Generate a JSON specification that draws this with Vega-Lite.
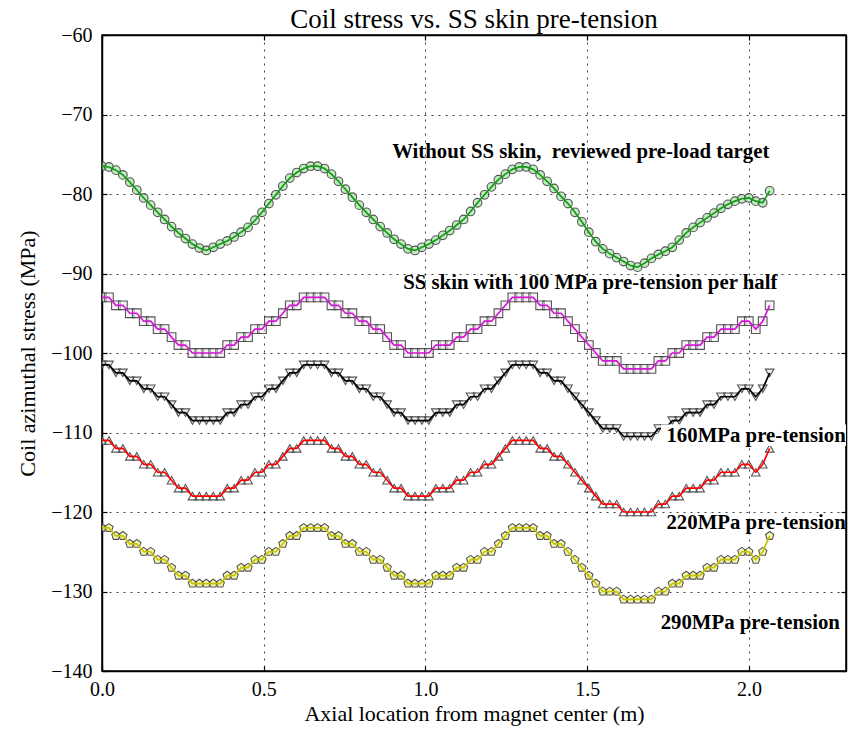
{
  "$schema": "https://vega.github.io/schema/vega-lite/v6.json",
  "width": 744,
  "height": 636,
  "autosize": {"type": "none"},
  "padding": {"left": 102, "top": 35, "right": 7, "bottom": 60},
  "background": "white",
  "title": {"text": "Coil stress vs. SS skin pre-tension", "font": "Liberation Serif", "fontSize": 27, "fontWeight": "normal", "color": "black", "offset": -9, "anchor": "middle"},
  "config": {
    "view": {"stroke": "black", "strokeWidth": 1.5},
    "axis": {
      "domainColor": "black", "domainWidth": 1.5, "tickColor": "black", "tickWidth": 1.2, "tickSize": -5, "labelFlush": false,
      "labelFont": "Liberation Serif", "labelFontSize": 20, "labelColor": "black",
      "titleFont": "Liberation Serif", "titleFontSize": 22, "titleFontWeight": "normal", "titleColor": "black",
      "gridColor": "black", "gridOpacity": 0.75, "gridDash": [2, 5], "gridWidth": 1
    }
  },
  "datasets": {
    "curves": [
{"s":"g","x":0,"v":-76.5},{"s":"g","x":0.0215,"v":-76.6},{"s":"g","x":0.043,"v":-77.0},{"s":"g","x":0.0645,"v":-77.6},{"s":"g","x":0.086,"v":-78.5},{"s":"g","x":0.1075,"v":-79.5},{"s":"g","x":0.129,"v":-80.5},{"s":"g","x":0.1505,"v":-81.4},{"s":"g","x":0.172,"v":-82.3},{"s":"g","x":0.1935,"v":-83.2},
{"s":"g","x":0.215,"v":-84.1},{"s":"g","x":0.2365,"v":-84.9},{"s":"g","x":0.258,"v":-85.6},{"s":"g","x":0.2795,"v":-86.3},{"s":"g","x":0.301,"v":-86.8},{"s":"g","x":0.3225,"v":-87.1},{"s":"g","x":0.344,"v":-86.7},{"s":"g","x":0.3655,"v":-86.3},{"s":"g","x":0.387,"v":-85.9},{"s":"g","x":0.4085,"v":-85.4},
{"s":"g","x":0.43,"v":-84.8},{"s":"g","x":0.4515,"v":-84.2},{"s":"g","x":0.473,"v":-83.3},{"s":"g","x":0.4945,"v":-82.3},{"s":"g","x":0.516,"v":-81.2},{"s":"g","x":0.5375,"v":-80.1},{"s":"g","x":0.559,"v":-79.0},{"s":"g","x":0.5805,"v":-78.0},{"s":"g","x":0.602,"v":-77.3},{"s":"g","x":0.6235,"v":-76.8},
{"s":"g","x":0.645,"v":-76.5},{"s":"g","x":0.6665,"v":-76.5},{"s":"g","x":0.688,"v":-76.8},{"s":"g","x":0.7095,"v":-77.5},{"s":"g","x":0.731,"v":-78.4},{"s":"g","x":0.7525,"v":-79.4},{"s":"g","x":0.774,"v":-80.4},{"s":"g","x":0.7955,"v":-81.4},{"s":"g","x":0.817,"v":-82.3},{"s":"g","x":0.8385,"v":-83.2},
{"s":"g","x":0.86,"v":-84.1},{"s":"g","x":0.8815,"v":-84.9},{"s":"g","x":0.903,"v":-85.7},{"s":"g","x":0.9245,"v":-86.3},{"s":"g","x":0.946,"v":-86.9},{"s":"g","x":0.9675,"v":-87.1},{"s":"g","x":0.989,"v":-86.7},{"s":"g","x":1.0105,"v":-86.3},{"s":"g","x":1.032,"v":-85.8},{"s":"g","x":1.0535,"v":-85.2},
{"s":"g","x":1.075,"v":-84.6},{"s":"g","x":1.0965,"v":-83.9},{"s":"g","x":1.118,"v":-83.2},{"s":"g","x":1.1395,"v":-82.2},{"s":"g","x":1.161,"v":-81.1},{"s":"g","x":1.1825,"v":-80.1},{"s":"g","x":1.204,"v":-79.1},{"s":"g","x":1.2255,"v":-78.2},{"s":"g","x":1.247,"v":-77.5},{"s":"g","x":1.2685,"v":-76.9},
{"s":"g","x":1.29,"v":-76.6},{"s":"g","x":1.3115,"v":-76.6},{"s":"g","x":1.333,"v":-76.9},{"s":"g","x":1.3545,"v":-77.6},{"s":"g","x":1.376,"v":-78.4},{"s":"g","x":1.3975,"v":-79.3},{"s":"g","x":1.419,"v":-80.3},{"s":"g","x":1.4405,"v":-81.2},{"s":"g","x":1.462,"v":-82.3},{"s":"g","x":1.4835,"v":-83.5},
{"s":"g","x":1.505,"v":-84.8},{"s":"g","x":1.5265,"v":-86.0},{"s":"g","x":1.548,"v":-86.9},{"s":"g","x":1.5695,"v":-87.5},{"s":"g","x":1.591,"v":-88.0},{"s":"g","x":1.6125,"v":-88.5},{"s":"g","x":1.634,"v":-89.0},{"s":"g","x":1.6555,"v":-89.2},{"s":"g","x":1.677,"v":-88.7},{"s":"g","x":1.6985,"v":-88.1},
{"s":"g","x":1.72,"v":-87.6},{"s":"g","x":1.7415,"v":-87.2},{"s":"g","x":1.763,"v":-86.7},{"s":"g","x":1.7845,"v":-85.8},{"s":"g","x":1.806,"v":-84.9},{"s":"g","x":1.8275,"v":-84.2},{"s":"g","x":1.849,"v":-83.6},{"s":"g","x":1.8705,"v":-83.0},{"s":"g","x":1.892,"v":-82.4},{"s":"g","x":1.9135,"v":-81.8},
{"s":"g","x":1.935,"v":-81.3},{"s":"g","x":1.9565,"v":-80.9},{"s":"g","x":1.978,"v":-80.6},{"s":"g","x":1.9995,"v":-80.5},{"s":"g","x":2.021,"v":-80.9},{"s":"g","x":2.0425,"v":-81.1},{"s":"g","x":2.064,"v":-79.6},

{"s":"m","x":0,"v":-93},{"s":"m","x":0.0215,"v":-93},{"s":"m","x":0.043,"v":-94},{"s":"m","x":0.0645,"v":-94},{"s":"m","x":0.086,"v":-95},{"s":"m","x":0.1075,"v":-95},{"s":"m","x":0.129,"v":-96},{"s":"m","x":0.1505,"v":-96},{"s":"m","x":0.172,"v":-97},{"s":"m","x":0.1935,"v":-97},
{"s":"m","x":0.215,"v":-98},{"s":"m","x":0.2365,"v":-99},{"s":"m","x":0.258,"v":-99},{"s":"m","x":0.2795,"v":-100},{"s":"m","x":0.301,"v":-100},{"s":"m","x":0.3225,"v":-100},{"s":"m","x":0.344,"v":-100},{"s":"m","x":0.3655,"v":-100},{"s":"m","x":0.387,"v":-99},{"s":"m","x":0.4085,"v":-99},
{"s":"m","x":0.43,"v":-98},{"s":"m","x":0.4515,"v":-98},{"s":"m","x":0.473,"v":-97},{"s":"m","x":0.4945,"v":-97},{"s":"m","x":0.516,"v":-96},{"s":"m","x":0.5375,"v":-96},{"s":"m","x":0.559,"v":-95},{"s":"m","x":0.5805,"v":-94},{"s":"m","x":0.602,"v":-94},{"s":"m","x":0.6235,"v":-93},
{"s":"m","x":0.645,"v":-93},{"s":"m","x":0.6665,"v":-93},{"s":"m","x":0.688,"v":-93},{"s":"m","x":0.7095,"v":-94},{"s":"m","x":0.731,"v":-94},{"s":"m","x":0.7525,"v":-95},{"s":"m","x":0.774,"v":-95},{"s":"m","x":0.7955,"v":-96},{"s":"m","x":0.817,"v":-96},{"s":"m","x":0.8385,"v":-97},
{"s":"m","x":0.86,"v":-97},{"s":"m","x":0.8815,"v":-98},{"s":"m","x":0.903,"v":-99},{"s":"m","x":0.9245,"v":-99},{"s":"m","x":0.946,"v":-100},{"s":"m","x":0.9675,"v":-100},{"s":"m","x":0.989,"v":-100},{"s":"m","x":1.0105,"v":-100},{"s":"m","x":1.032,"v":-99},{"s":"m","x":1.0535,"v":-99},
{"s":"m","x":1.075,"v":-99},{"s":"m","x":1.0965,"v":-98},{"s":"m","x":1.118,"v":-98},{"s":"m","x":1.1395,"v":-97},{"s":"m","x":1.161,"v":-97},{"s":"m","x":1.1825,"v":-96},{"s":"m","x":1.204,"v":-96},{"s":"m","x":1.2255,"v":-95},{"s":"m","x":1.247,"v":-94},{"s":"m","x":1.2685,"v":-93},
{"s":"m","x":1.29,"v":-93},{"s":"m","x":1.3115,"v":-93},{"s":"m","x":1.333,"v":-93},{"s":"m","x":1.3545,"v":-94},{"s":"m","x":1.376,"v":-94},{"s":"m","x":1.3975,"v":-95},{"s":"m","x":1.419,"v":-95},{"s":"m","x":1.4405,"v":-96},{"s":"m","x":1.462,"v":-97},{"s":"m","x":1.4835,"v":-98},
{"s":"m","x":1.505,"v":-99},{"s":"m","x":1.5265,"v":-100},{"s":"m","x":1.548,"v":-101},{"s":"m","x":1.5695,"v":-101},{"s":"m","x":1.591,"v":-101},{"s":"m","x":1.6125,"v":-102},{"s":"m","x":1.634,"v":-102},{"s":"m","x":1.6555,"v":-102},{"s":"m","x":1.677,"v":-102},{"s":"m","x":1.6985,"v":-102},
{"s":"m","x":1.72,"v":-101},{"s":"m","x":1.7415,"v":-101},{"s":"m","x":1.763,"v":-100},{"s":"m","x":1.7845,"v":-100},{"s":"m","x":1.806,"v":-99},{"s":"m","x":1.8275,"v":-99},{"s":"m","x":1.849,"v":-99},{"s":"m","x":1.8705,"v":-98},{"s":"m","x":1.892,"v":-98},{"s":"m","x":1.9135,"v":-97},
{"s":"m","x":1.935,"v":-97},{"s":"m","x":1.9565,"v":-97},{"s":"m","x":1.978,"v":-96},{"s":"m","x":1.9995,"v":-96},{"s":"m","x":2.021,"v":-97},{"s":"m","x":2.0425,"v":-96},{"s":"m","x":2.064,"v":-94},

{"s":"k","x":0,"v":-101.5},{"s":"k","x":0.0215,"v":-101.5},{"s":"k","x":0.043,"v":-102.5},{"s":"k","x":0.0645,"v":-102.5},{"s":"k","x":0.086,"v":-103.5},{"s":"k","x":0.1075,"v":-103.5},{"s":"k","x":0.129,"v":-104.5},{"s":"k","x":0.1505,"v":-104.5},{"s":"k","x":0.172,"v":-105.5},{"s":"k","x":0.1935,"v":-105.5},
{"s":"k","x":0.215,"v":-106.5},{"s":"k","x":0.2365,"v":-107.5},{"s":"k","x":0.258,"v":-107.5},{"s":"k","x":0.2795,"v":-108.5},{"s":"k","x":0.301,"v":-108.5},{"s":"k","x":0.3225,"v":-108.5},{"s":"k","x":0.344,"v":-108.5},{"s":"k","x":0.3655,"v":-108.5},{"s":"k","x":0.387,"v":-107.5},{"s":"k","x":0.4085,"v":-107.5},
{"s":"k","x":0.43,"v":-106.5},{"s":"k","x":0.4515,"v":-106.5},{"s":"k","x":0.473,"v":-105.5},{"s":"k","x":0.4945,"v":-105.5},{"s":"k","x":0.516,"v":-104.5},{"s":"k","x":0.5375,"v":-104.5},{"s":"k","x":0.559,"v":-103.5},{"s":"k","x":0.5805,"v":-102.5},{"s":"k","x":0.602,"v":-102.5},{"s":"k","x":0.6235,"v":-101.5},
{"s":"k","x":0.645,"v":-101.5},{"s":"k","x":0.6665,"v":-101.5},{"s":"k","x":0.688,"v":-101.5},{"s":"k","x":0.7095,"v":-102.5},{"s":"k","x":0.731,"v":-102.5},{"s":"k","x":0.7525,"v":-103.5},{"s":"k","x":0.774,"v":-103.5},{"s":"k","x":0.7955,"v":-104.5},{"s":"k","x":0.817,"v":-104.5},{"s":"k","x":0.8385,"v":-105.5},
{"s":"k","x":0.86,"v":-105.5},{"s":"k","x":0.8815,"v":-106.5},{"s":"k","x":0.903,"v":-107.5},{"s":"k","x":0.9245,"v":-107.5},{"s":"k","x":0.946,"v":-108.5},{"s":"k","x":0.9675,"v":-108.5},{"s":"k","x":0.989,"v":-108.5},{"s":"k","x":1.0105,"v":-108.5},{"s":"k","x":1.032,"v":-107.5},{"s":"k","x":1.0535,"v":-107.5},
{"s":"k","x":1.075,"v":-107.5},{"s":"k","x":1.0965,"v":-106.5},{"s":"k","x":1.118,"v":-106.5},{"s":"k","x":1.1395,"v":-105.5},{"s":"k","x":1.161,"v":-105.5},{"s":"k","x":1.1825,"v":-104.5},{"s":"k","x":1.204,"v":-104.5},{"s":"k","x":1.2255,"v":-103.5},{"s":"k","x":1.247,"v":-102.5},{"s":"k","x":1.2685,"v":-101.5},
{"s":"k","x":1.29,"v":-101.5},{"s":"k","x":1.3115,"v":-101.5},{"s":"k","x":1.333,"v":-101.5},{"s":"k","x":1.3545,"v":-102.5},{"s":"k","x":1.376,"v":-102.5},{"s":"k","x":1.3975,"v":-103.5},{"s":"k","x":1.419,"v":-103.5},{"s":"k","x":1.4405,"v":-104.5},{"s":"k","x":1.462,"v":-105.5},{"s":"k","x":1.4835,"v":-106.5},
{"s":"k","x":1.505,"v":-107.5},{"s":"k","x":1.5265,"v":-108.5},{"s":"k","x":1.548,"v":-109.5},{"s":"k","x":1.5695,"v":-109.5},{"s":"k","x":1.591,"v":-109.5},{"s":"k","x":1.6125,"v":-110.5},{"s":"k","x":1.634,"v":-110.5},{"s":"k","x":1.6555,"v":-110.5},{"s":"k","x":1.677,"v":-110.5},{"s":"k","x":1.6985,"v":-110.5},
{"s":"k","x":1.72,"v":-109.5},{"s":"k","x":1.7415,"v":-109.5},{"s":"k","x":1.763,"v":-108.5},{"s":"k","x":1.7845,"v":-108.5},{"s":"k","x":1.806,"v":-107.5},{"s":"k","x":1.8275,"v":-107.5},{"s":"k","x":1.849,"v":-107.5},{"s":"k","x":1.8705,"v":-106.5},{"s":"k","x":1.892,"v":-106.5},{"s":"k","x":1.9135,"v":-105.5},
{"s":"k","x":1.935,"v":-105.5},{"s":"k","x":1.9565,"v":-105.5},{"s":"k","x":1.978,"v":-104.5},{"s":"k","x":1.9995,"v":-104.5},{"s":"k","x":2.021,"v":-105.5},{"s":"k","x":2.0425,"v":-104.5},{"s":"k","x":2.064,"v":-102.5},

{"s":"r","x":0,"v":-111},{"s":"r","x":0.0215,"v":-111},{"s":"r","x":0.043,"v":-112},{"s":"r","x":0.0645,"v":-112},{"s":"r","x":0.086,"v":-113},{"s":"r","x":0.1075,"v":-113},{"s":"r","x":0.129,"v":-114},{"s":"r","x":0.1505,"v":-114},{"s":"r","x":0.172,"v":-115},{"s":"r","x":0.1935,"v":-115},
{"s":"r","x":0.215,"v":-116},{"s":"r","x":0.2365,"v":-117},{"s":"r","x":0.258,"v":-117},{"s":"r","x":0.2795,"v":-118},{"s":"r","x":0.301,"v":-118},{"s":"r","x":0.3225,"v":-118},{"s":"r","x":0.344,"v":-118},{"s":"r","x":0.3655,"v":-118},{"s":"r","x":0.387,"v":-117},{"s":"r","x":0.4085,"v":-117},
{"s":"r","x":0.43,"v":-116},{"s":"r","x":0.4515,"v":-116},{"s":"r","x":0.473,"v":-115},{"s":"r","x":0.4945,"v":-115},{"s":"r","x":0.516,"v":-114},{"s":"r","x":0.5375,"v":-114},{"s":"r","x":0.559,"v":-113},{"s":"r","x":0.5805,"v":-112},{"s":"r","x":0.602,"v":-112},{"s":"r","x":0.6235,"v":-111},
{"s":"r","x":0.645,"v":-111},{"s":"r","x":0.6665,"v":-111},{"s":"r","x":0.688,"v":-111},{"s":"r","x":0.7095,"v":-112},{"s":"r","x":0.731,"v":-112},{"s":"r","x":0.7525,"v":-113},{"s":"r","x":0.774,"v":-113},{"s":"r","x":0.7955,"v":-114},{"s":"r","x":0.817,"v":-114},{"s":"r","x":0.8385,"v":-115},
{"s":"r","x":0.86,"v":-115},{"s":"r","x":0.8815,"v":-116},{"s":"r","x":0.903,"v":-117},{"s":"r","x":0.9245,"v":-117},{"s":"r","x":0.946,"v":-118},{"s":"r","x":0.9675,"v":-118},{"s":"r","x":0.989,"v":-118},{"s":"r","x":1.0105,"v":-118},{"s":"r","x":1.032,"v":-117},{"s":"r","x":1.0535,"v":-117},
{"s":"r","x":1.075,"v":-117},{"s":"r","x":1.0965,"v":-116},{"s":"r","x":1.118,"v":-116},{"s":"r","x":1.1395,"v":-115},{"s":"r","x":1.161,"v":-115},{"s":"r","x":1.1825,"v":-114},{"s":"r","x":1.204,"v":-114},{"s":"r","x":1.2255,"v":-113},{"s":"r","x":1.247,"v":-112},{"s":"r","x":1.2685,"v":-111},
{"s":"r","x":1.29,"v":-111},{"s":"r","x":1.3115,"v":-111},{"s":"r","x":1.333,"v":-111},{"s":"r","x":1.3545,"v":-112},{"s":"r","x":1.376,"v":-112},{"s":"r","x":1.3975,"v":-113},{"s":"r","x":1.419,"v":-113},{"s":"r","x":1.4405,"v":-114},{"s":"r","x":1.462,"v":-115},{"s":"r","x":1.4835,"v":-116},
{"s":"r","x":1.505,"v":-117},{"s":"r","x":1.5265,"v":-118},{"s":"r","x":1.548,"v":-119},{"s":"r","x":1.5695,"v":-119},{"s":"r","x":1.591,"v":-119},{"s":"r","x":1.6125,"v":-120},{"s":"r","x":1.634,"v":-120},{"s":"r","x":1.6555,"v":-120},{"s":"r","x":1.677,"v":-120},{"s":"r","x":1.6985,"v":-120},
{"s":"r","x":1.72,"v":-119},{"s":"r","x":1.7415,"v":-119},{"s":"r","x":1.763,"v":-118},{"s":"r","x":1.7845,"v":-118},{"s":"r","x":1.806,"v":-117},{"s":"r","x":1.8275,"v":-117},{"s":"r","x":1.849,"v":-117},{"s":"r","x":1.8705,"v":-116},{"s":"r","x":1.892,"v":-116},{"s":"r","x":1.9135,"v":-115},
{"s":"r","x":1.935,"v":-115},{"s":"r","x":1.9565,"v":-115},{"s":"r","x":1.978,"v":-114},{"s":"r","x":1.9995,"v":-114},{"s":"r","x":2.021,"v":-115},{"s":"r","x":2.0425,"v":-114},{"s":"r","x":2.064,"v":-112},

{"s":"y","x":0,"v":-122},{"s":"y","x":0.0215,"v":-122},{"s":"y","x":0.043,"v":-123},{"s":"y","x":0.0645,"v":-123},{"s":"y","x":0.086,"v":-124},{"s":"y","x":0.1075,"v":-124},{"s":"y","x":0.129,"v":-125},{"s":"y","x":0.1505,"v":-125},{"s":"y","x":0.172,"v":-126},{"s":"y","x":0.1935,"v":-126},
{"s":"y","x":0.215,"v":-127},{"s":"y","x":0.2365,"v":-128},{"s":"y","x":0.258,"v":-128},{"s":"y","x":0.2795,"v":-129},{"s":"y","x":0.301,"v":-129},{"s":"y","x":0.3225,"v":-129},{"s":"y","x":0.344,"v":-129},{"s":"y","x":0.3655,"v":-129},{"s":"y","x":0.387,"v":-128},{"s":"y","x":0.4085,"v":-128},
{"s":"y","x":0.43,"v":-127},{"s":"y","x":0.4515,"v":-127},{"s":"y","x":0.473,"v":-126},{"s":"y","x":0.4945,"v":-126},{"s":"y","x":0.516,"v":-125},{"s":"y","x":0.5375,"v":-125},{"s":"y","x":0.559,"v":-124},{"s":"y","x":0.5805,"v":-123},{"s":"y","x":0.602,"v":-123},{"s":"y","x":0.6235,"v":-122},
{"s":"y","x":0.645,"v":-122},{"s":"y","x":0.6665,"v":-122},{"s":"y","x":0.688,"v":-122},{"s":"y","x":0.7095,"v":-123},{"s":"y","x":0.731,"v":-123},{"s":"y","x":0.7525,"v":-124},{"s":"y","x":0.774,"v":-124},{"s":"y","x":0.7955,"v":-125},{"s":"y","x":0.817,"v":-125},{"s":"y","x":0.8385,"v":-126},
{"s":"y","x":0.86,"v":-126},{"s":"y","x":0.8815,"v":-127},{"s":"y","x":0.903,"v":-128},{"s":"y","x":0.9245,"v":-128},{"s":"y","x":0.946,"v":-129},{"s":"y","x":0.9675,"v":-129},{"s":"y","x":0.989,"v":-129},{"s":"y","x":1.0105,"v":-129},{"s":"y","x":1.032,"v":-128},{"s":"y","x":1.0535,"v":-128},
{"s":"y","x":1.075,"v":-128},{"s":"y","x":1.0965,"v":-127},{"s":"y","x":1.118,"v":-127},{"s":"y","x":1.1395,"v":-126},{"s":"y","x":1.161,"v":-126},{"s":"y","x":1.1825,"v":-125},{"s":"y","x":1.204,"v":-125},{"s":"y","x":1.2255,"v":-124},{"s":"y","x":1.247,"v":-123},{"s":"y","x":1.2685,"v":-122},
{"s":"y","x":1.29,"v":-122},{"s":"y","x":1.3115,"v":-122},{"s":"y","x":1.333,"v":-122},{"s":"y","x":1.3545,"v":-123},{"s":"y","x":1.376,"v":-123},{"s":"y","x":1.3975,"v":-124},{"s":"y","x":1.419,"v":-124},{"s":"y","x":1.4405,"v":-125},{"s":"y","x":1.462,"v":-126},{"s":"y","x":1.4835,"v":-127},
{"s":"y","x":1.505,"v":-128},{"s":"y","x":1.5265,"v":-129},{"s":"y","x":1.548,"v":-130},{"s":"y","x":1.5695,"v":-130},{"s":"y","x":1.591,"v":-130},{"s":"y","x":1.6125,"v":-131},{"s":"y","x":1.634,"v":-131},{"s":"y","x":1.6555,"v":-131},{"s":"y","x":1.677,"v":-131},{"s":"y","x":1.6985,"v":-131},
{"s":"y","x":1.72,"v":-130},{"s":"y","x":1.7415,"v":-130},{"s":"y","x":1.763,"v":-129},{"s":"y","x":1.7845,"v":-129},{"s":"y","x":1.806,"v":-128},{"s":"y","x":1.8275,"v":-128},{"s":"y","x":1.849,"v":-128},{"s":"y","x":1.8705,"v":-127},{"s":"y","x":1.892,"v":-127},{"s":"y","x":1.9135,"v":-126},
{"s":"y","x":1.935,"v":-126},{"s":"y","x":1.9565,"v":-126},{"s":"y","x":1.978,"v":-125},{"s":"y","x":1.9995,"v":-125},{"s":"y","x":2.021,"v":-126},{"s":"y","x":2.0425,"v":-125},{"s":"y","x":2.064,"v":-123}
    ],
    "labels": [
      {"x": 0.897, "v": -75.5, "t": "Without SS skin,\u00a0 reviewed pre-load target"},
      {"x": 0.931, "v": -91.9, "t": "SS skin with 100 MPa pre-tension per half"},
      {"x": 1.745, "v": -111.25, "t": "160MPa pre-tension"},
      {"x": 1.745, "v": -122.15, "t": "220MPa pre-tension"},
      {"x": 1.727, "v": -134.7, "t": "290MPa pre-tension"}
    ],
    "mask": [
      {"x1": 1.728, "x2": 2.3, "v1": -109.0, "v2": -111.7}
    ]
  },
  "layer": [
    {
      "data": {"name": "curves"},
      "mark": {"type": "point", "filled": true, "size": 75, "stroke": "#3a3a3a", "strokeWidth": 1.1, "strokeOpacity": 0.85, "fillOpacity": 0.55, "clip": true},
      "encoding": {
        "x": {"field": "x", "type": "quantitative", "scale": {"domain": [0, 2.3], "nice": false, "zero": false},
              "axis": {"orient": "bottom", "values": [0, 0.5, 1, 1.5, 2], "format": ".1f", "title": "Axial location from magnet center (m)", "labelPadding": 13, "titlePadding": 4, "grid": true}},
        "y": {"field": "v", "type": "quantitative", "scale": {"domain": [-140, -60], "nice": false, "zero": false},
              "axis": {"orient": "left", "values": [-140, -130, -120, -110, -100, -90, -80, -70, -60], "format": "d", "title": "Coil azimuthal stress (MPa)", "labelPadding": 15, "titlePadding": 11, "grid": true}},
        "shape": {"field": "s", "type": "nominal", "legend": null,
                  "scale": {"domain": ["g", "m", "k", "r", "y"], "range": ["circle", "square", "triangle-down", "triangle-up", "M0,-1L0.951,-0.309L0.588,0.809L-0.588,0.809L-0.951,-0.309Z"]}},
        "fill": {"field": "s", "type": "nominal", "legend": null,
                 "scale": {"domain": ["g", "m", "k", "r", "y"], "range": ["#8fdc8f", "#f4e8f4", "#e6e6e6", "#ffffff", "#eeee80"]}}
      }
    },
    {
      "data": {"name": "curves"},
      "mark": {"type": "line", "strokeWidth": 1.7, "clip": true},
      "encoding": {
        "x": {"field": "x", "type": "quantitative", "axis": {"orient": "top", "values": [0, 0.5, 1, 1.5, 2], "labels": false, "title": null, "grid": false, "domain": true}},
        "y": {"field": "v", "type": "quantitative", "axis": {"orient": "right", "values": [-140, -130, -120, -110, -100, -90, -80, -70, -60], "labels": false, "title": null, "grid": false, "domain": true}},
        "color": {"field": "s", "type": "nominal", "legend": null,
                  "scale": {"domain": ["g", "m", "k", "r", "y"], "range": ["#169a16", "#d21ad2", "#000000", "#ff0000", "#c4c400"]}},
        "detail": {"field": "s"}
      }
    },
    {
      "data": {"name": "mask"},
      "mark": {"type": "rect", "fill": "white", "clip": true},
      "encoding": {
        "x": {"field": "x1", "type": "quantitative", "axis": null},
        "x2": {"field": "x2"},
        "y": {"field": "v1", "type": "quantitative", "axis": null},
        "y2": {"field": "v2"}
      }
    },
    {
      "data": {"name": "labels"},
      "mark": {"type": "text", "align": "left", "baseline": "alphabetic", "font": "Liberation Serif", "fontWeight": "bold", "fontSize": 20.8, "color": "black"},
      "encoding": {
        "x": {"field": "x", "type": "quantitative", "axis": null},
        "y": {"field": "v", "type": "quantitative", "axis": null},
        "text": {"field": "t", "type": "nominal"}
      }
    }
  ],
  "resolve": {"axis": {"x": "independent", "y": "independent"}}
}
